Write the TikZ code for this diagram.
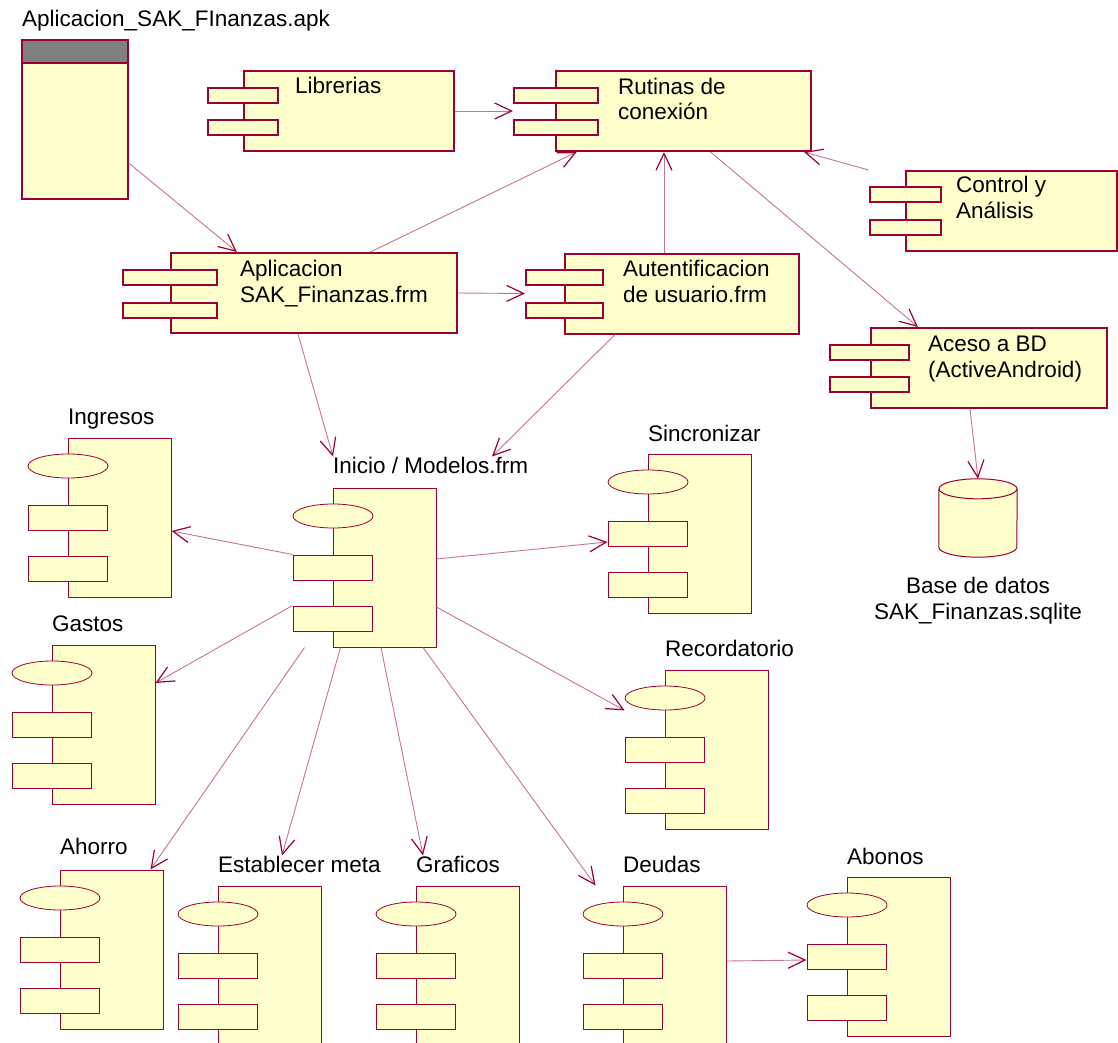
\documentclass[tikz,border=0pt]{standalone}
\usepackage{fontspec}
\setmainfont{Liberation Sans}
\usetikzlibrary{shapes,arrows.meta,positioning,calc}
\definecolor{rose}{RGB}{153,0,51}
\definecolor{cream}{RGB}{255,255,204}
\definecolor{hdgray}{RGB}{128,128,128}

\begin{document}
\begin{tikzpicture}[x=1pt,y=-1pt,
  every node/.style={font=\fontsize{22.5}{25.5}\selectfont,inner sep=0pt},
  cbox/.style={draw=rose,fill=cream,line width=2pt,minimum height=80pt},
  cport/.style={draw=rose,fill=cream,line width=2pt,minimum width=70pt,minimum height=15pt},
  fbox/.style={draw=rose,fill=cream,line width=1pt,minimum width=103pt,minimum height=159pt},
  fport/.style={draw=rose,fill=cream,line width=1pt,minimum width=79pt,minimum height=25pt},
  foval/.style={draw=rose,fill=cream,line width=0.8pt,ellipse,minimum width=80pt,minimum height=24pt},
  cyl/.style={draw=rose,fill=cream,line width=1pt},
  ttl/.style={anchor=base west,align=left},
  dep/.style={draw=rose!55,line width=0.9pt,-{Straight Barb[length=17pt,width=16pt,line width=1.2pt,color=rose]}},
]
\useasboundingbox (0,0) rectangle (1118,1043);

% Paquete apk
\node[draw=rose,fill=cream,line width=1.5pt,minimum width=106pt,minimum height=159pt] (apk) at (75,119.5) {};
\node[draw=rose,fill=hdgray,line width=1.5pt,minimum width=106pt,minimum height=23pt] (apkh) at (75,51.5) {};
\node[ttl] (apkt) at (22,27) {Aplicacion\_SAK\_FInanzas.apk};

% Componentes de la aplicacion (ultima linea del texto en la base)
\node[cbox,minimum width=210pt] (lib) at (349,111) {};
\node[cport] (libp1) at (243,95.5) {};
\node[cport] (libp2) at (243,127.5) {};
\node[ttl] (libt) at (295,94) {Librerias};

\node[cbox,minimum width=255pt] (rut) at (683.5,111) {};
\node[cport,minimum width=84pt] (rutp1) at (556,95.5) {};
\node[cport,minimum width=84pt] (rutp2) at (556,127.5) {};
\node[ttl] (rutt) at (618,120) {Rutinas de\\conexión};

\node[cbox,minimum width=211pt] (ctl) at (1011.5,211) {};
\node[cport,minimum width=71pt] (ctlp1) at (905,194.5) {};
\node[cport,minimum width=71pt] (ctlp2) at (905,227.5) {};
\node[ttl] (ctlt) at (956,218) {Control y\\Análisis};

\node[cbox,minimum width=286pt] (app) at (314,293) {};
\node[cport,minimum width=94pt] (appp1) at (170,277.5) {};
\node[cport,minimum width=94pt] (appp2) at (170,310) {};
\node[ttl] (appt) at (240,302) {Aplicacion\\SAK\_Finanzas.frm};

\node[cbox,minimum width=234pt] (aut) at (682,293.5) {};
\node[cport,minimum width=77pt] (autp1) at (564.5,277.5) {};
\node[cport,minimum width=77pt] (autp2) at (564.5,310.5) {};
\node[ttl] (autt) at (623,302) {Autentificacion\\de usuario.frm};

\node[cbox,minimum width=236pt] (bd) at (989,368) {};
\node[cport,minimum width=79pt] (bdp1) at (869.5,352.5) {};
\node[cport,minimum width=79pt] (bdp2) at (869.5,384.5) {};
\node[ttl] (bdt) at (928,377) {Aceso a BD\\(ActiveAndroid)};

% Base de datos
\node[minimum width=78pt,minimum height=78pt] (db) at (978,518) {};
\draw[cyl] ($(db.north west)+(0,10)$) -- ($(db.south west)+(0,-10)$)
  arc[start angle=180,end angle=360,x radius=39pt,y radius=10pt] -- ($(db.north east)+(0,10)$);
\draw[cyl] ($(db.north)+(0,10)$) ellipse[x radius=39pt,y radius=10pt];
\node[ttl,anchor=base,align=center] (dbt) at (978,619) {Base de datos\\SAK\_Finanzas.sqlite};

% Formularios
\node[fbox] (ing) at (119.5,517.5) {};
\node[foval] (ingov) at (68,466) {};
\node[fport] (ingp1) at (67.5,517.5) {};
\node[fport] (ingp2) at (67.5,568.5) {};
\node[ttl] (ingt) at (68,424) {Ingresos};

\node[fbox] (ini) at (384.5,567.5) {};
\node[foval] (iniov) at (333,516) {};
\node[fport] (inip1) at (332.5,567.5) {};
\node[fport] (inip2) at (332.5,618.5) {};
\node[ttl] (init) at (333,473) {Inicio / Modelos.frm};

\node[fbox] (sin) at (699.5,533.5) {};
\node[foval] (sinov) at (648,482) {};
\node[fport] (sinp1) at (647.5,533.5) {};
\node[fport] (sinp2) at (647.5,584.5) {};
\node[ttl] (sint) at (648,441) {Sincronizar};

\node[fbox] (rec) at (716.5,749.5) {};
\node[foval] (recov) at (665,698) {};
\node[fport] (recp1) at (664.5,749.5) {};
\node[fport] (recp2) at (664.5,800.5) {};
\node[ttl] (rect) at (665,656) {Recordatorio};

\node[fbox] (gas) at (103.5,724.5) {};
\node[foval] (gasov) at (52,673) {};
\node[fport] (gasp1) at (51.5,724.5) {};
\node[fport] (gasp2) at (51.5,775.5) {};
\node[ttl] (gast) at (52,631) {Gastos};

\node[fbox] (aho) at (111.5,949.5) {};
\node[foval] (ahoov) at (60,898) {};
\node[fport] (ahop1) at (59.5,949.5) {};
\node[fport] (ahop2) at (59.5,1000.5) {};
\node[ttl] (ahot) at (60,854) {Ahorro};

\node[fbox] (est) at (269.5,965.5) {};
\node[foval] (estov) at (218,914) {};
\node[fport] (estp1) at (217.5,965.5) {};
\node[fport] (estp2) at (217.5,1016.5) {};
\node[ttl] (estt) at (218,872) {Establecer meta};

\node[fbox] (gra) at (467.5,965.5) {};
\node[foval] (graov) at (416,914) {};
\node[fport] (grap1) at (415.5,965.5) {};
\node[fport] (grap2) at (415.5,1016.5) {};
\node[ttl] (grat) at (416,872) {Graficos};

\node[fbox] (deu) at (674.5,965.5) {};
\node[foval] (deuov) at (623,914) {};
\node[fport] (deup1) at (622.5,965.5) {};
\node[fport] (deup2) at (622.5,1016.5) {};
\node[ttl] (deut) at (623,872) {Deudas};

\node[fbox] (abo) at (898.5,956.5) {};
\node[foval] (aboov) at (847,905) {};
\node[fport] (abop1) at (846.5,956.5) {};
\node[fport] (abop2) at (846.5,1007.5) {};
\node[ttl] (abot) at (847,864) {Abonos};

% Dependencias
\draw[dep] (apk.321) -- (app.152);
\draw[dep] (lib) -- (rut.west -| rutp1.west);
\draw[dep] (app.36) -- (rut.201);
\draw[dep] ([xshift=-18pt]aut.north) -- ([xshift=-18pt]aut.north |- rut.south);
\draw[dep] (ctlp1.west |- ctl.north) -- ([xshift=-8pt]rut.south east);
\draw[dep] ([xshift=27pt]rut.south) -- ([xshift=-71pt]bd.north);
\draw[dep] (app.east) -- (aut.west -| autp1.west);
\draw[dep] ([xshift=-16pt]app.south) -- (init.north west);
\draw[dep] ([xshift=-67pt]aut.south) -- ([xshift=159pt]init.north west);
\draw[dep] ([xshift=-19pt]bd.south) -- (db.north);
\draw[dep] (inip1.north west) -- ([yshift=-13.5pt]ing.east);
\draw[dep] (inip2.north west) -- ([yshift=41.5pt]gas.east);
\draw[dep] ([xshift=-28pt]ini.south west) -- ([xshift=-13pt]aho.north east);
\draw[dep] ([xshift=8pt]ini.south west) -- ([xshift=64pt]estt.north west);
\draw[dep] ([xshift=-3.5pt]ini.south) -- ([xshift=7pt]grat.north west);
\draw[dep] ([xshift=38.5pt]ini.south) -- ([xshift=-27pt]deu.north west);
\draw[dep] ([yshift=-39.5pt]ini.east) -- (recov.west |- recov.south);
\draw[dep] ([yshift=8.5pt]ini.east) -- ([yshift=-8.5pt]sinp1.west);
\draw[dep] ([yshift=4.5pt]deu.east) -- ([yshift=-3.5pt]abop1.west);

\end{tikzpicture}
\end{document}
